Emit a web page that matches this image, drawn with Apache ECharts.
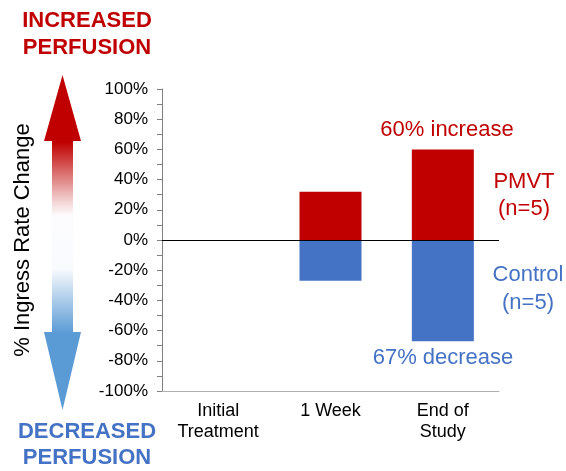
<!DOCTYPE html>
<html>
<head>
<meta charset="utf-8">
<script src="https://cdn.jsdelivr.net/npm/echarts@6/dist/echarts.min.js"></script>
<style>html,body{margin:0;padding:0;background:#fff;}#c{width:566px;height:471px;}</style>
</head>
<body>
<div id="c"></div>
<script>
var categories = ['Initial\nTreatment', '1 Week', 'End of\nStudy'];
var pmvt = [null, 32, 60];
var control = [null, -27, -67];
var yTicks = [-100, -80, -60, -40, -20, 0, 20, 40, 60, 80, 100];

var RED = '#C00000', BLUE = '#4472C4';
var FONT = 'Liberation Sans, Arial, sans-serif';

var chart = echarts.init(document.getElementById('c'), null, {renderer: 'canvas'});
chart.setOption({
  animation: false,
  textStyle: {fontFamily: FONT},
  grid: {left: 162, right: 67, top: 89, bottom: 80, containLabel: false},
  xAxis: {
    type: 'category', data: categories,
    axisLine: {onZero: false, lineStyle: {color: '#B0B0B0', width: 1}},
    axisTick: {show: false},
    axisLabel: {color: '#000', fontSize: 18, lineHeight: 21, margin: 10, fontFamily: FONT}
  },
  yAxis: {
    type: 'value', min: -100, max: 100, interval: 20,
    name: '% Ingress Rate Change', nameLocation: 'middle', nameGap: 128, nameRotate: 90,
    nameTextStyle: {color: '#000', fontSize: 22, fontFamily: FONT},
    axisLine: {show: true, lineStyle: {color: '#808080', width: 1}},
    axisTick: {show: true, length: 5, lineStyle: {color: '#808080'}},
    minorTick: {show: true, splitNumber: 2, length: 5, lineStyle: {color: '#808080'}},
    splitLine: {show: false},
    axisLabel: {color: '#000', fontSize: 17, margin: 14, fontFamily: FONT,
      formatter: function (v) { return yTicks.indexOf(v) >= 0 ? v + '%' : ''; }}
  },
  series: [
    {name: 'PMVT', type: 'bar', data: pmvt, barWidth: 62, barGap: '-100%',
      itemStyle: {color: RED},
      markLine: {silent: true, symbol: 'none', label: {show: false},
        lineStyle: {color: '#000', width: 1, type: 'solid'}, data: [{yAxis: 0}]}},
    {name: 'Control', type: 'bar', data: control, barWidth: 62, barGap: '-100%',
      itemStyle: {color: BLUE}}
  ],
  graphic: [
    {type: 'polygon', z: 10,
      shape: {points: [[62.5, 75], [81, 141], [73, 141], [73, 332], [81, 332], [62.5, 410], [44, 332], [52, 332], [52, 141], [44, 141]]},
      style: {fill: new echarts.graphic.LinearGradient(0, 0, 0, 1, [
        {offset: 0, color: RED}, {offset: 0.2, color: RED}, {offset: 0.38, color: '#F4D6D6'},
        {offset: 0.42, color: '#FCFCFE'}, {offset: 0.58, color: '#F8FAFD'},
        {offset: 0.77, color: '#5B9BD5'}, {offset: 1, color: '#5B9BD5'}])}},
    {type: 'text', x: 87, y: 34, style: {text: 'INCREASED\nPERFUSION', fill: RED, font: 'bold 22px ' + FONT,
      lineHeight: 27, align: 'center', verticalAlign: 'middle'}},
    {type: 'text', x: 87, y: 445, style: {text: 'DECREASED\nPERFUSION', fill: BLUE, font: 'bold 22px ' + FONT,
      lineHeight: 26, align: 'center', verticalAlign: 'middle'}},
    {type: 'text', x: 447, y: 130, style: {text: '60% increase', fill: RED, font: '22px ' + FONT, align: 'center', verticalAlign: 'middle'}},
    {type: 'text', x: 443, y: 358, style: {text: '67% decrease', fill: BLUE, font: '22px ' + FONT, align: 'center', verticalAlign: 'middle'}},
    {type: 'text', x: 524, y: 195, style: {text: 'PMVT\n(n=5)', fill: RED, font: '22px ' + FONT, lineHeight: 27, align: 'center', verticalAlign: 'middle'}},
    {type: 'text', x: 528, y: 289, style: {text: 'Control\n(n=5)', fill: BLUE, font: '22px ' + FONT, lineHeight: 28, align: 'center', verticalAlign: 'middle'}}
  ]
});
</script>
</body>
</html>
